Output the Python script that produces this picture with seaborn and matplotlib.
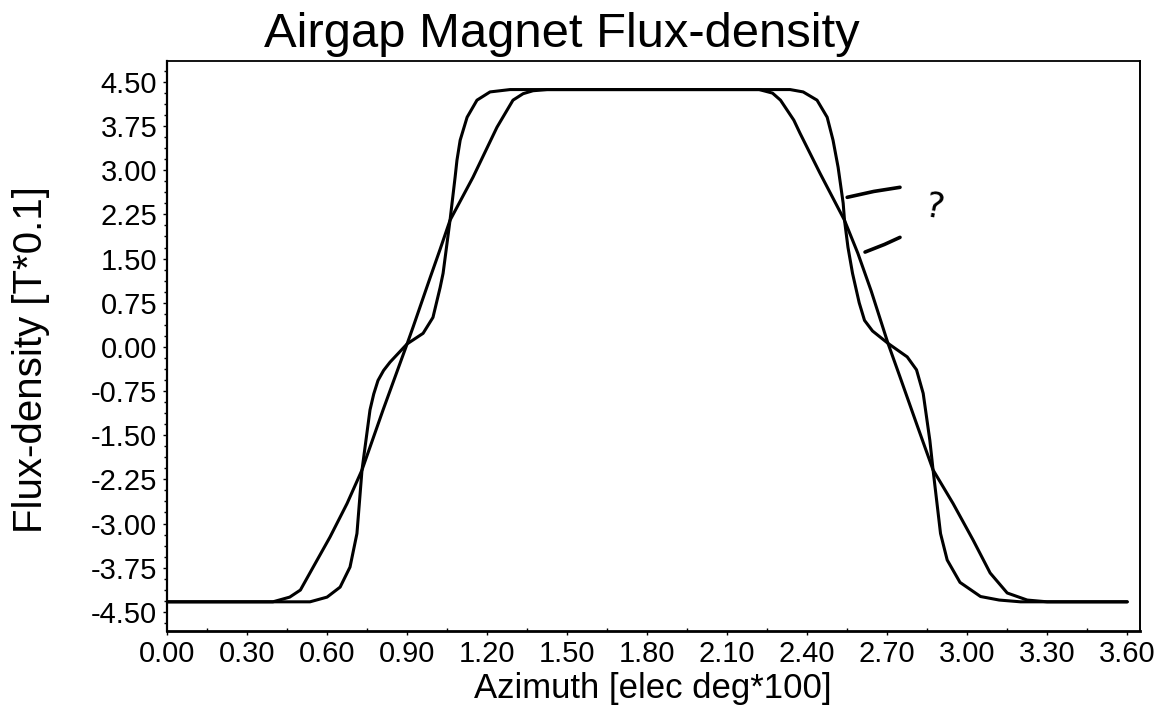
import matplotlib
matplotlib.use("Agg")
import matplotlib.pyplot as plt
from matplotlib.ticker import AutoMinorLocator
import seaborn as sns

# ---- data ----
azimuth_a = [0.00, 0.30, 0.397, 0.46, 0.50, 0.548, 0.611, 0.675, 0.731, 0.81, 0.90,
             0.922, 0.986, 1.024, 1.061, 1.147, 1.237, 1.297, 1.335, 1.372, 1.425,
             1.80, 2.22, 2.27, 2.30, 2.35, 2.373, 2.448, 2.54, 2.59, 2.64, 2.703,
             2.748, 2.812, 2.872, 2.947, 3.022, 3.086, 3.15, 3.225, 3.30, 3.60]
flux_a = [-4.33, -4.33, -4.33, -4.25, -4.13, -3.74, -3.23, -2.66, -2.09, -1.07, 0.05,
          0.33, 1.17, 1.66, 2.15, 2.88, 3.73, 4.19, 4.30, 4.35, 4.37,
          4.37, 4.37, 4.31, 4.19, 3.85, 3.63, 2.95, 2.15, 1.59, 0.95, 0.06,
          -0.51, -1.33, -2.09, -2.66, -3.28, -3.84, -4.18, -4.30, -4.33, -4.33]

azimuth_b = [0.00, 0.40, 0.536, 0.60, 0.649, 0.686, 0.712, 0.731, 0.761, 0.775, 0.791,
             0.812, 0.836, 0.90, 0.96, 0.997, 1.024, 1.035, 1.061, 1.080, 1.087,
             1.099, 1.125, 1.162, 1.211, 1.286, 1.80, 2.336, 2.385, 2.437, 2.475,
             2.497, 2.516, 2.535, 2.54, 2.553, 2.57, 2.595, 2.615, 2.645, 2.703,
             2.775, 2.81, 2.835, 2.86, 2.872, 2.90, 2.925, 2.973, 3.05, 3.12,
             3.20, 3.60]
flux_b = [-4.33, -4.33, -4.33, -4.25, -4.08, -3.74, -3.17, -2.09, -1.07, -0.80, -0.57,
          -0.40, -0.26, 0.05, 0.23, 0.50, 1.01, 1.25, 2.15, 2.88, 3.17,
          3.51, 3.90, 4.19, 4.33, 4.37, 4.37, 4.37, 4.33, 4.19, 3.90,
          3.51, 3.05, 2.44, 2.15, 1.69, 1.25, 0.75, 0.45, 0.27, 0.06,
          -0.17, -0.39, -0.79, -1.59, -2.09, -3.17, -3.62, -4.00, -4.24, -4.30,
          -4.33, -4.33]

x_ticks = [0.00, 0.30, 0.60, 0.90, 1.20, 1.50, 1.80, 2.10, 2.40, 2.70, 3.00, 3.30, 3.60]
x_tick_labels = ["0.00", "0.30", "0.60", "0.90", "1.20", "1.50", "1.80", "2.10",
                 "2.40", "2.70", "3.00", "3.30", "3.60"]
y_ticks = [4.50, 3.75, 3.00, 2.25, 1.50, 0.75, 0.00, -0.75, -1.50, -2.25, -3.00, -3.75, -4.50]
y_tick_labels = ["4.50", "3.75", "3.00", "2.25", "1.50", "0.75", "0.00", "-0.75",
                 "-1.50", "-2.25", "-3.00", "-3.75", "-4.50"]

title = "Airgap Magnet Flux-density"
x_label = "Azimuth [elec deg*100]"
y_label = "Flux-density [T*0.1]"

# hand-drawn annotation marks (data coordinates)
mark1_x = [2.55, 2.65, 2.748]
mark1_y = [2.54, 2.64, 2.71]
mark2_x = [2.617, 2.69, 2.748]
mark2_y = [1.61, 1.74, 1.86]

# ---- figure ----
sns.set_style("white")
plt.rcParams["font.family"] = ["Liberation Sans", "DejaVu Sans"]
plt.rcParams["text.color"] = "black"
plt.rcParams["axes.labelcolor"] = "black"
plt.rcParams["xtick.color"] = "black"
plt.rcParams["ytick.color"] = "black"

fig = plt.figure(figsize=(11.73, 7.06), dpi=100)
ax = fig.add_axes([0.1424, 0.1067, 0.8295, 0.8073])

sns.lineplot(x=azimuth_a, y=flux_a, ax=ax, color="black", linewidth=2.2,
             estimator=None, sort=False)
sns.lineplot(x=azimuth_b, y=flux_b, ax=ax, color="black", linewidth=2.2,
             estimator=None, sort=False)

# annotation strokes and question mark
ax.plot(mark1_x, mark1_y, color="black", linewidth=2.6, solid_capstyle="round")
ax.plot(mark2_x, mark2_y, color="black", linewidth=2.6, solid_capstyle="round")
ax.text(2.876, 2.37, "?", fontsize=25, ha="center", va="center", rotation=-10,
        color="black", family=["DejaVu Sans"])

ax.set_xlim(0, 3.648)
ax.set_ylim(-4.82, 4.86)

ax.set_xticks(x_ticks)
ax.set_xticklabels(x_tick_labels)
ax.set_yticks(y_ticks)
ax.set_yticklabels(y_tick_labels)
ax.xaxis.set_minor_locator(AutoMinorLocator(2))
ax.yaxis.set_minor_locator(AutoMinorLocator(4))
ax.tick_params(axis="both", which="major", direction="out", length=3, width=1,
               labelsize=21, pad=4, colors="black")
ax.tick_params(axis="x", which="minor", direction="in", length=2, width=1)
ax.tick_params(axis="y", which="minor", direction="out", length=2, width=1)
ax.tick_params(axis="x", which="both", bottom=True)
ax.tick_params(axis="y", which="both", left=True)

for side, lw in {"left": 1.6, "bottom": 2.0, "top": 1.3, "right": 1.4}.items():
    ax.spines[side].set_visible(True)
    ax.spines[side].set_color("black")
    ax.spines[side].set_linewidth(lw)

ax.set_xlabel(x_label, fontsize=25, va="baseline")
ax.set_ylabel(y_label, fontsize=29)
ax.xaxis.set_label_coords(0.499, -0.1175)
ax.yaxis.set_label_coords(-0.120, 0.475)

fig.text(562 / 1173, 1 - 47 / 706, title, fontsize=35.3, ha="center", va="baseline")

fig.savefig("out.png", dpi=100)
